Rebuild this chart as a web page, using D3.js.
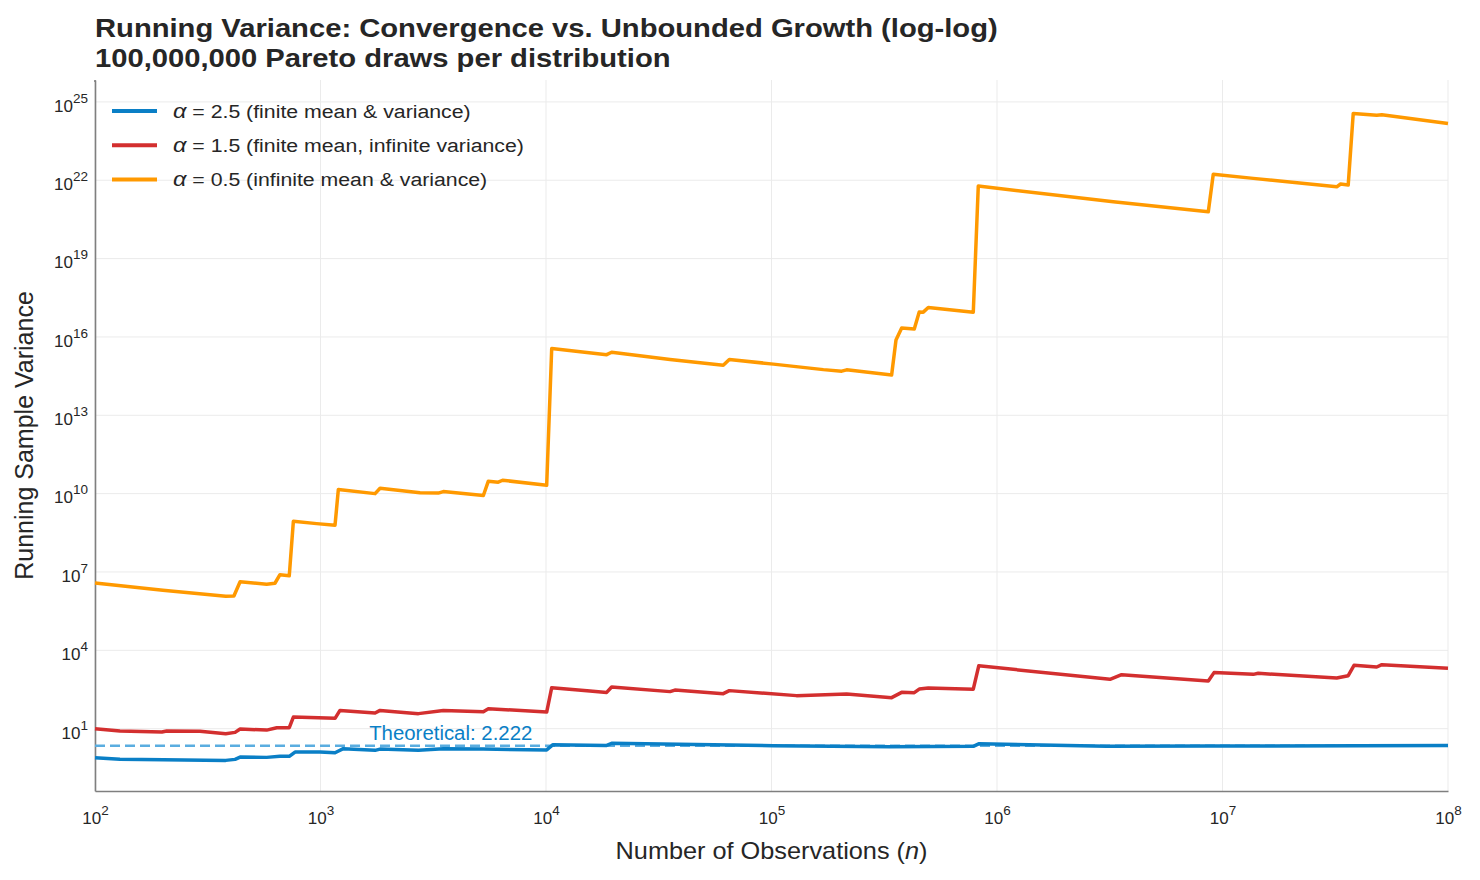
<!DOCTYPE html>
<html>
<head>
<meta charset="utf-8">
<script src="https://cdn.jsdelivr.net/npm/d3@7"></script>
<style>
    body { margin: 0; background: #fff; }
    text { font-family: "Liberation Sans", Arial, sans-serif; fill: #262626; }
</style>
</head>
<body>
<svg id="chart" width="1480" height="880"></svg>
<script>
// values
const alphaValues = ["2.5", "1.5", "0.5"];
const alphaNotes = ["(finite mean & variance)", "(finite mean, infinite variance)", "(infinite mean & variance)"];

const nAlpha25 = [100, 129, 201, 380, 418, 440, 577, 661, 727, 771, 995, 1160, 1262, 1746, 1837, 2718, 3505, 5275,
    10070, 10740, 18580, 19550, 101900, 335000, 785000, 834000, 3.06e6, 8.65e6, 1e8];
const varAlpha25 = [0.774, 0.667, 0.649, 0.61, 0.667, 0.817, 0.795, 0.869, 0.869, 1.27, 1.27, 1.20, 1.71, 1.48, 1.65, 1.48, 1.71, 1.65,
    1.54, 2.44, 2.29, 2.74, 2.23, 2.04, 2.10, 2.66, 2.10, 2.15, 2.29];

const nAlpha15 = [100, 129, 198, 208, 292, 380, 418, 440, 577, 640, 727, 758, 1160, 1220, 1746, 1837, 2718, 3505, 5275, 5550,
    10070, 10600, 15660, 18580, 19550, 35480, 37300, 61100, 65000, 129000, 215400, 341000, 377800, 429700, 452000, 495700,
    785000, 830000, 3.17e6, 3.57e6, 8.65e6, 9.17e6, 1.37e7, 1.44e7, 3.21e7, 3.61e7, 3.83e7, 4.83e7, 5.09e7, 1e8];
const varAlpha15 = [10.0, 8.1, 7.4, 8.1, 7.9, 6.4, 7.2, 9.7, 8.8, 10.9, 10.9, 27.8, 24.8, 50, 39.6, 50, 37.6, 50, 44.7, 58,
    43, 372, 276, 245, 392, 262, 301, 219, 286, 184, 212, 154, 246, 239, 329, 359,
    326, 2550, 775, 1170, 667, 1400, 1200, 1315, 869, 1070, 2660, 2290, 2830, 2040];

const nAlpha05 = [100, 200, 380, 413, 440, 577, 628, 661, 727, 758, 961, 1160, 1200, 1746, 1837, 2762, 3328, 3505, 5275, 5550,
    6140, 6420, 10070, 10600, 18580, 19550, 35480, 61100, 65000, 101900, 169800, 204800, 215400, 341000, 356500,
    377800, 429700, 452000, 471000, 495700, 785000, 826000, 3.28e6, 8.65e6, 9.1e6, 1.37e7, 3.21e7, 3.34e7, 3.61e7,
    3.80e7, 4.83e7, 5.09e7, 1e8];
const varAlpha05 = [3.8e6, 2.0e6, 1.17e6, 1.2e6, 4.2e6, 3.4e6, 3.7e6, 7.9e6, 7.2e6, 8.7e8, 7.1e8, 6.2e8, 1.45e10, 1.0e10, 1.6e10, 1.07e10, 1.05e10, 1.2e10, 8.5e9, 3.0e10,
    2.75e10, 3.25e10, 2.1e10, 3.6e15, 2.1e15, 2.6e15, 1.38e15, 8.3e14, 1.38e15, 9.1e14, 5.6e14, 4.9e14, 5.5e14, 3.5e14, 7.6e15,
    2.2e16, 2.0e16, 9.1e16, 8.9e16, 1.35e17, 8.9e16, 6.0e21, 1.5e21, 6.2e20, 1.7e22, 1.18e22, 5.6e21, 7.2e21, 6.6e21,
    3.6e24, 3.1e24, 3.25e24, 1.5e24];

const xTickValues = [1e2, 1e3, 1e4, 1e5, 1e6, 1e7, 1e8];
const yTickValues = [1e1, 1e4, 1e7, 1e10, 1e13, 1e16, 1e19, 1e22, 1e25];
const theoreticalVariance = 2.222;

const colors = ["#0a7fc6", "#d32f2f", "#ff9900"];

let svg = d3.select("#chart");
let width = 1480, height = 880;
let margin = {top: 80, right: 32, bottom: 89, left: 95};
const STRETCH = 1.12; // the reference text is drawn a bit wide

let x = d3.scaleLog().domain([1e2, 1e8]).range([margin.left, width - margin.right]);
let y = d3.scaleLog().domain([0.041, 6.9e25]).range([height - margin.bottom, margin.top]);

// grid
let grid = svg.append("g");
grid.selectAll("line.vx").data(xTickValues).enter().append("line")
    .attr("x1", d => x(d)).attr("x2", d => x(d))
    .attr("y1", margin.top).attr("y2", height - margin.bottom)
    .style("stroke", "#ebebeb").style("stroke-width", 1);
grid.selectAll("line.hy").data(yTickValues).enter().append("line")
    .attr("x1", margin.left).attr("x2", width - margin.right)
    .attr("y1", d => y(d)).attr("y2", d => y(d))
    .style("stroke", "#ebebeb").style("stroke-width", 1);

function powerLabel(sel) {
    sel.each(function (d) {
        let t = d3.select(this);
        t.text(null);
        t.append("tspan").text("10");
        t.append("tspan").attr("dy", "-9").style("font-size", "13.5px").text(Math.round(Math.log10(d)));
    });
}

// axes
let xAxis = d3.axisBottom(x).tickValues(xTickValues).tickSize(0).tickSizeOuter(0).tickPadding(21).tickFormat("");
let gx = svg.append("g").attr("transform", "translate(0," + (height - margin.bottom) + ")").call(xAxis);
gx.selectAll(".tick text").style("font-size", "17px").style("fill", "#262626").call(powerLabel);

let yAxis = d3.axisLeft(y).tickValues(yTickValues).tickSize(0).tickSizeOuter(0).tickPadding(7).tickFormat("");
let gy = svg.append("g").attr("transform", "translate(" + margin.left + ",0)").call(yAxis);
gy.selectAll(".tick text").style("font-size", "17px").style("fill", "#262626").attr("dy", "0.55em").call(powerLabel);

[gx, gy].forEach(g => g.select(".domain").style("stroke", "#7f7f7f").style("stroke-width", 1.6));
svg.append("rect").attr("x", margin.left - 0.8).attr("y", margin.top).attr("width", 1.6).attr("height", 2).style("fill", "#7f7f7f");

// theoretical line
svg.append("line")
    .attr("x1", x(1e2)).attr("x2", x(1e8))
    .attr("y1", y(theoreticalVariance)).attr("y2", y(theoreticalVariance))
    .style("stroke", "#5aade0").style("stroke-width", 2.5).style("stroke-dasharray", "10,5");
svg.append("text")
    .attr("transform", "translate(" + x(3.78e3) + "," + (y(theoreticalVariance) - 6) + ") scale(1.02,1)")
    .attr("text-anchor", "middle")
    .style("font-size", "20px").style("fill", "#0a7fc6")
    .text("Theoretical: " + theoreticalVariance.toFixed(3));

// series
let series = [
    {n: nAlpha25, v: varAlpha25},
    {n: nAlpha15, v: varAlpha15},
    {n: nAlpha05, v: varAlpha05}
];
let line = d3.line().x(d => x(d[0])).y(d => y(d[1]));
series.forEach(function (s, i) {
    let pts = s.n.map((n, k) => [n, s.v[k]]);
    svg.append("path")
        .datum(pts)
        .attr("d", line)
        .style("fill", "none")
        .style("stroke", colors[i])
        .style("stroke-width", 3.5)
        .style("stroke-linejoin", "round");
});

// legend
let legend = svg.append("g");
alphaValues.forEach(function (a, i) {
    let ly = 111 + i * 34.2;
    legend.append("line")
        .attr("x1", 112).attr("x2", 157).attr("y1", ly).attr("y2", ly)
        .style("stroke", colors[i]).style("stroke-width", 4);
    let t = legend.append("text")
        .attr("transform", "translate(173," + (ly + 7) + ") scale(" + STRETCH + ",1)")
        .style("font-size", "19px");
    t.append("tspan").style("font-style", "italic").style("font-size", "21px").text("α");
    t.append("tspan").text(" = " + a + " " + alphaNotes[i]);
});

// titles
let title = svg.append("text")
    .attr("transform", "translate(" + margin.left + ",37) scale(1.14,1)")
    .style("font-size", "25.6px").style("font-weight", "bold");
title.append("tspan").attr("x", 0).text("Running Variance: Convergence vs. Unbounded Growth (log-log)");
title.append("tspan").attr("x", 0).attr("dy", 30).text("100,000,000 Pareto draws per distribution");

let xl = svg.append("text")
    .attr("transform", "translate(" + ((margin.left + width - margin.right) / 2) + ",859) scale(1.1,1)")
    .attr("text-anchor", "middle")
    .style("font-size", "23px");
xl.append("tspan").text("Number of Observations (");
xl.append("tspan").style("font-style", "italic").text("n");
xl.append("tspan").text(")");

svg.append("text")
    .attr("transform", "translate(33," + ((margin.top + height - margin.bottom) / 2) + ") rotate(-90)")
    .attr("text-anchor", "middle")
    .style("font-size", "25px")
    .text("Running Sample Variance");
</script>
</body>
</html>
